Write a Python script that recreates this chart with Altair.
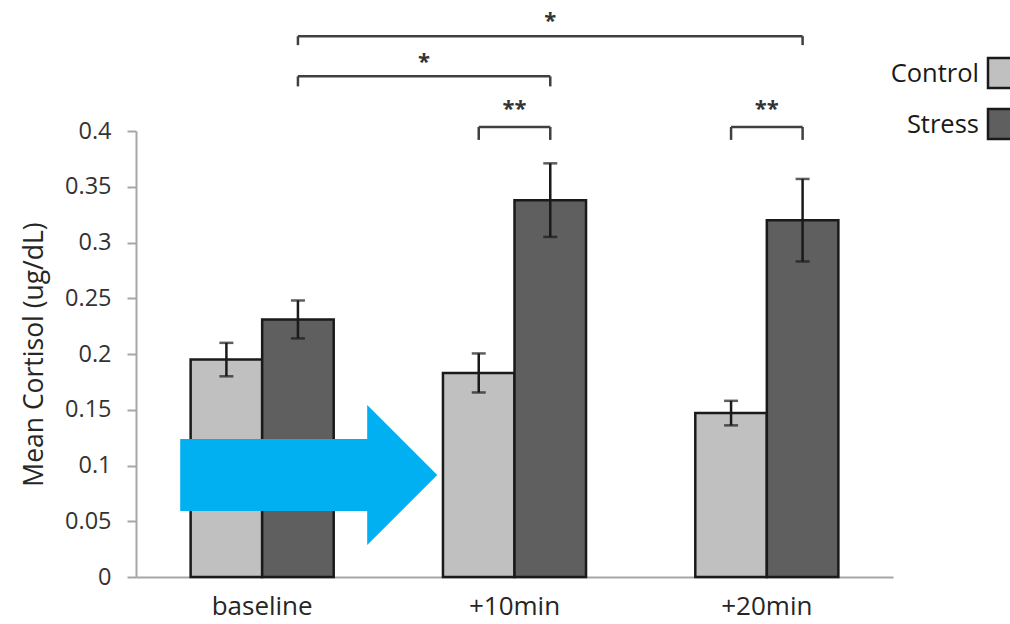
import altair as alt
import pandas as pd

# ---------------- data ----------------
categories = ["baseline", "+10min", "+20min"]
series_names = ["Control", "Stress"]
series_colors = ["#c0c0c0", "#5f5f5f"]

control_mean = [0.195, 0.183, 0.147]
control_err = [0.015, 0.0175, 0.011]
stress_mean = [0.231, 0.338, 0.320]
stress_err = [0.017, 0.033, 0.037]

y_ticks = [0, 0.05, 0.1, 0.15, 0.2, 0.25, 0.3, 0.35, 0.4]
y_title = "Mean Cortisol (ug/dL)"

# significance brackets
br_start_cat = ["baseline", "baseline", "+10min", "+20min"]
br_start_ser = ["Stress", "Stress", "Control", "Control"]
br_end_cat = ["+20min", "+10min", "+10min", "+20min"]
br_end_ser = ["Stress", "Stress", "Stress", "Stress"]
br_level = [0.485, 0.449, 0.4036, 0.4036]
br_drop = [0.477, 0.440, 0.392, 0.392]
br_label = ["*", "*", "**", "**"]
br_label_y = [0.499, 0.462, 0.420, 0.420]

# blue arrow annotation (x in category-slot units, y in data units)
arrow_x = [0.6845]
arrow_y = [0.0915]

PAD_INNER = 0.433
BAR_FRAC = 1 - PAD_INNER

def slot(cat, ser):
    i = categories.index(cat)
    j = series_names.index(ser)
    return i + 0.5 + (j - 0.5) * BAR_FRAC / 2

rows = []
for i, c in enumerate(categories):
    for s, m, e in (("Control", control_mean[i], control_err[i]),
                    ("Stress", stress_mean[i], stress_err[i])):
        rows.append({"category": c, "series": s, "mean": m, "lo": m - e, "hi": m + e})
df = pd.DataFrame(rows)
caps = pd.concat([
    df[["category", "series", "lo"]].rename(columns={"lo": "v"}),
    df[["category", "series", "hi"]].rename(columns={"hi": "v"}),
])

br = pd.DataFrame({
    "x1": [slot(c, s) for c, s in zip(br_start_cat, br_start_ser)],
    "x2": [slot(c, s) for c, s in zip(br_end_cat, br_end_ser)],
    "level": br_level,
    "drop": br_drop,
    "label": br_label,
    "label_y": br_label_y,
})
br["mid"] = (br["x1"] + br["x2"]) / 2

arrow_df = pd.DataFrame({"ax": arrow_x, "ay": arrow_y})

# ---------------- encodings ----------------
ink = "#1a1a1a"
yscale = alt.Scale(domain=[0, 0.4], nice=False, zero=True)

X = alt.X("category:N", sort=categories,
          scale=alt.Scale(paddingInner=PAD_INNER, paddingOuter=PAD_INNER / 2),
          axis=alt.Axis(title=None, labelAngle=0, ticks=False, labelPadding=16,
                        labelFontSize=26, labelColor="#262626",
                        domainColor="#a6a6a6", domainWidth=2))
XO = alt.XOffset("series:N", sort=series_names)

bars = alt.Chart(df).mark_bar(stroke=ink, strokeWidth=2.5).encode(
    x=X, xOffset=XO,
    y=alt.Y("mean:Q", scale=yscale, title=y_title,
            axis=alt.Axis(values=y_ticks, labelExpr="'' + round(datum.value*100)/100",
                          grid=False, tickSize=9, labelPadding=16,
                          labelFontSize=23.5, labelColor="#333333",
                          titleFontSize=26.5, titleFontWeight="normal", titleColor="#262626",
                          titlePadding=16, domainColor="#a6a6a6", tickColor="#a6a6a6",
                          domainWidth=2, tickWidth=2)),
    color=alt.Color("series:N", sort=series_names,
                    scale=alt.Scale(domain=series_names, range=series_colors), legend=None),
)

err = alt.Chart(df).mark_rule(color=ink, strokeWidth=2.5).encode(
    x=alt.X("category:N", sort=categories), xOffset=XO,
    y=alt.Y("lo:Q", title=y_title), y2="hi:Q",
)
cap = alt.Chart(caps).mark_tick(color=ink, thickness=2.5, size=14).encode(
    x=alt.X("category:N", sort=categories), xOffset=XO,
    y=alt.Y("v:Q", title=y_title),
)

bar_layer = alt.layer(bars, err, cap)

XQ = alt.Scale(domain=[0, 3], nice=False, zero=False)
br_color = "#404040"
h_line = alt.Chart(br).mark_rule(color=br_color, strokeWidth=2.5).encode(
    x=alt.X("x1:Q", scale=XQ, axis=None), x2="x2:Q",
    y=alt.Y("level:Q", title=y_title),
)
v_left = alt.Chart(br).mark_rule(color=br_color, strokeWidth=2.5).encode(
    x=alt.X("x1:Q", scale=XQ, axis=None),
    y=alt.Y("drop:Q", title=y_title), y2="level:Q",
)
v_right = alt.Chart(br).mark_rule(color=br_color, strokeWidth=2.5).encode(
    x=alt.X("x2:Q", scale=XQ, axis=None),
    y=alt.Y("drop:Q", title=y_title), y2="level:Q",
)
stars = alt.Chart(br).mark_text(fontSize=22, fontWeight="bold", color="#333333",
                                baseline="middle", align="center").encode(
    x=alt.X("mid:Q", scale=XQ, axis=None),
    y=alt.Y("label_y:Q", title=y_title),
    text="label:N",
)
arrow_path = "M-1,-0.28L0.455,-0.28L0.455,-0.545L1,0L0.455,0.545L0.455,0.28L-1,0.28Z"
arrow = alt.Chart(arrow_df).mark_point(shape=arrow_path, size=66049, filled=True,
                                       fill="#00b0f0", opacity=1, strokeWidth=0).encode(
    x=alt.X("ax:Q", scale=XQ, axis=None),
    y=alt.Y("ay:Q", title=y_title),
)
annot_layer = alt.layer(arrow, h_line, v_left, v_right, stars)

# manual legend (label left of swatch, as in the reference)
legend_layers = []
for k, (name, col) in enumerate(zip(series_names, series_colors)):
    ldf = pd.DataFrame({"series": [name]})
    top = -73 + k * 51
    legend_layers.append(
        alt.Chart(ldf).mark_text(align="right", baseline="middle", fontSize=25.5,
                                 color="#1a1a1a").encode(
            x=alt.value(843), y=alt.value(top + 16), text="series:N")
    )
    legend_layers.append(
        alt.Chart(ldf).mark_rect(fill=col, stroke=ink, strokeWidth=2.5).encode(
            x=alt.value(852), x2=alt.value(882), y=alt.value(top), y2=alt.value(top + 30))
    )

chart = alt.layer(bar_layer, annot_layer, *legend_layers).resolve_scale(
    x="independent"
).properties(
    width=757, height=446,
    autosize=alt.AutoSizeParams(type="none"),
    padding={"left": 136, "top": 131, "right": 117, "bottom": 47},
).configure(font="Open Sans").configure_view(stroke=None)

chart.save("out.html", embed_options={"renderer": "svg", "actions": False})
